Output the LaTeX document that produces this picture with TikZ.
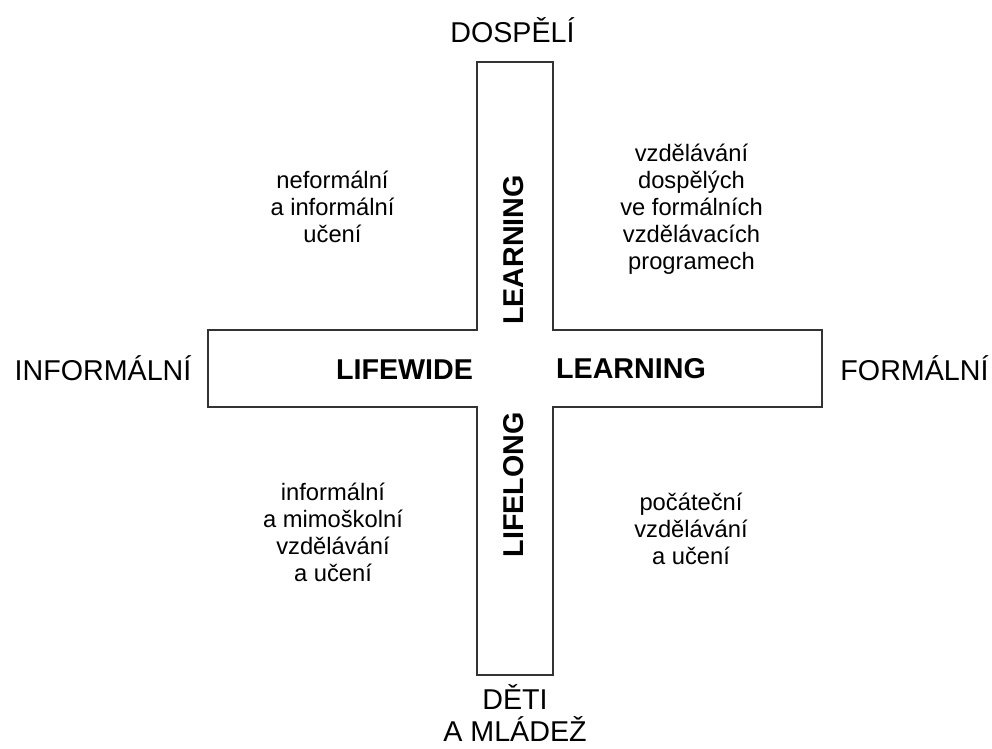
\documentclass[tikz,border=0pt]{standalone}
\usepackage{fontspec}
\setmainfont{Liberation Sans}
\begin{document}
\begin{tikzpicture}[x=0.75pt,y=-0.75pt,
  pole/.style={font=\fontsize{21.5pt}{24pt}\selectfont, inner sep=0pt, align=center},
  axislabel/.style={font=\fontsize{21.5pt}{24.75pt}\selectfont\bfseries, inner sep=0pt},
  quadrant/.style={font=\fontsize{17.8pt}{20.25pt}\selectfont, inner sep=0pt, align=center},
  crossline/.style={draw=black!80, line width=1.2pt, line join=miter}]
\useasboundingbox (0,0) rectangle (992,749);

% the cross made of two bars, drawn as one outline
\draw[crossline] (477,62) -- (553,62) -- (553,330) -- (822,330) -- (822,407)
  -- (553,407) -- (553,675) -- (477,675) -- (477,407) -- (208,407)
  -- (208,330) -- (477,330) -- cycle;

% ends of the two axes (base of a two-line node is its last line)
\node[pole, anchor=base] (top) at (512.5,43) {DOSPĚLÍ};
\node[pole, anchor=base] (bottom) at (515,741) {DĚTI\\A MLÁDEŽ};
\node[pole, anchor=base] (left) at (103,380) {INFORMÁLNÍ};
\node[pole, anchor=base] (right) at (914.5,380) {FORMÁLNÍ};

% words along the bars
\node[axislabel, anchor=base] (wide) at (404.5,379) {LIFEWIDE};
\node[axislabel, anchor=base] (learnh) at (631,378.5) {LEARNING};
\node[axislabel, anchor=base, rotate=90] (learnv) at (523,250) {LEARNING};
\node[axislabel, anchor=base, rotate=90] (long) at (523,485) {LIFELONG};

% the four quadrants
\node[quadrant] (nw) at (332.5,207) {neformální\\a informální\\učení};
\node[quadrant] (ne) at (691.5,209) {vzdělávání\\dospělých\\ve formálních\\vzdělávacích\\programech};
\node[quadrant] (sw) at (333,532) {informální\\a mimoškolní\\vzdělávání\\a učení};
\node[quadrant] (se) at (691,529) {počáteční\\vzdělávání\\a učení};
\end{tikzpicture}
\end{document}
